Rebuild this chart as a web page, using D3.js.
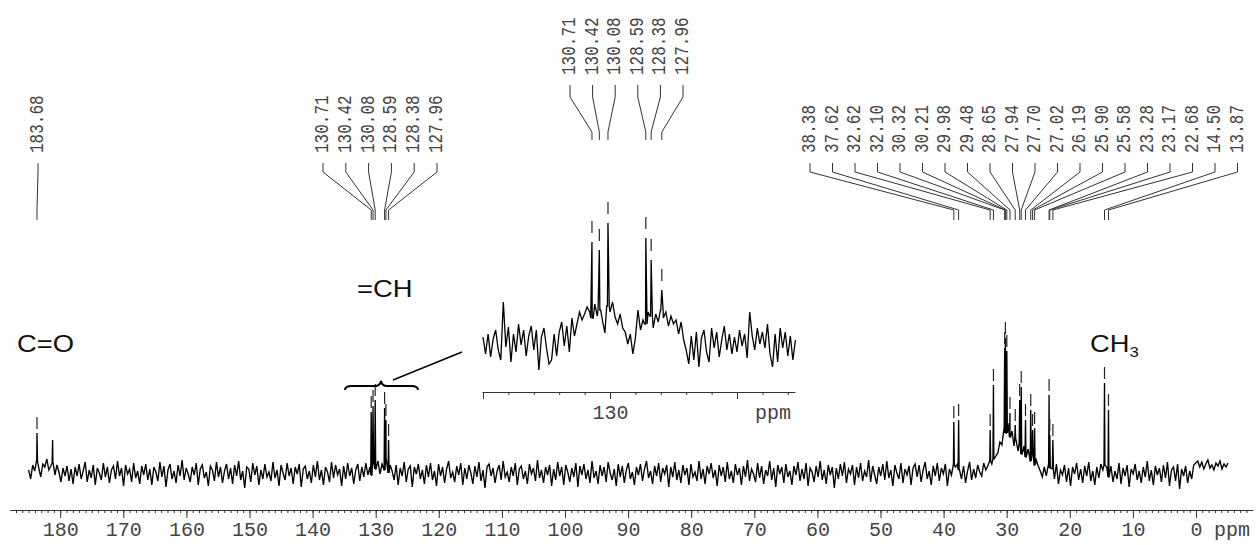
<!DOCTYPE html>
<html><head><meta charset="utf-8">
<script src="https://cdn.jsdelivr.net/npm/d3@7"></script>
<style>body{margin:0;background:#fff}svg{display:block}</style>
</head><body>
<script>
// ---------- DATA ----------
const mainStartPpm = 185.0, mainStepPpm = 0.32;
const mainNoise = [
3,-6,8,2,12,5,-4,9,6,14,3,7,10,-2,8,1,-9,5,-3,7,
-8,4,-11,6,-3,9,-6,2,11,-9,3,-5,8,-12,5,0,-7,10,-4,6,
-10,3,7,-6,12,-3,5,-13,8,-1,4,-9,10,-5,2,-11,7,-2,9,-7,
4,-12,6,1,-8,11,-4,7,-14,3,9,-6,2,-10,8,-3,13,-7,5,-1,
-9,6,-2,10,-12,4,8,-5,1,-13,7,3,-8,11,-4,6,-10,2,9,-6,
5,-11,8,-3,12,-7,2,-15,6,4,-9,10,-2,7,-12,3,-6,9,-4,1,
-8,11,-5,3,-13,8,0,-7,10,-3,5,-11,6,-1,9,-14,4,7,-6,2,
-10,8,-4,12,-7,3,-12,6,1,-9,11,-5,8,-2,4,-13,7,-6,10,-3,
5,-11,3,9,-8,6,-4,10,-2,6,-2,10,4,12,-1,9,3,13,0,8,
2,-7,8,-12,5,-3,11,-9,4,7,-14,6,-1,9,-6,3,-11,8,-4,10,
-7,2,-13,9,-3,6,-10,4,12,-5,1,-9,7,-2,10,-12,5,-6,8,0,
-11,7,-4,11,-8,3,-15,6,9,-3,5,-10,2,8,-7,12,-4,1,-9,6,
-3,10,-12,4,7,-6,2,-11,9,-1,5,-8,13,-5,3,-10,6,-2,8,-13,
4,-7,11,-3,6,-12,8,1,-9,5,-4,10,-14,7,-2,9,-6,3,-10,12,
-5,2,-11,8,-3,6,-9,11,0,-7,4,-13,9,-4,7,-10,3,10,-6,1,
-12,6,-2,9,-8,4,12,-5,2,-11,7,-3,10,-9,5,-1,8,-14,6,-4,
11,-7,3,-10,8,-2,5,-12,9,-4,1,-8,12,-6,4,-11,7,-1,10,-5,
3,-13,8,-3,6,-9,11,-6,2,-10,9,-2,5,-12,7,-4,13,-8,4,-1,
-9,10,-5,7,-11,3,-3,12,-7,5,-14,8,-1,6,-10,9,-4,2,-12,7,
-2,11,-8,4,-6,10,-13,5,1,-9,7,-4,12,-7,3,-11,8,-2,6,-15,
5,-6,9,-3,11,-10,4,-1,8,-12,6,-5,10,-8,2,-4,13,-9,7,-2,
-11,6,-3,9,-7,12,-5,3,-13,8,0,-6,10,-10,4,-2,7,-12,5,9,
-4,8,-9,3,11,-6,2,-12,7,-3,10,-8,5,-1,9,-13,4,-2,8,6,
9,3,-6,7,-10,2,11,-7,4,-5,8,1,-3,10,3,7,12,9,14,17,
20,31,28,44,40,50,36,42,27,33,22,30,19,27,16,24,12,20,8,13,
7,2,-4,6,-3,8,5,4,-6,9,-11,3,-2,8,-9,5,-13,6,-1,10,
-7,4,-10,7,-3,11,-8,2,-12,6,-5,9,3,8,5,-4,7,-9,2,-6,
10,-11,5,-3,8,-14,4,-1,9,-7,2,-10,6,-4,12,-8,3,-12,7,-2,
5,-9,8,-5,11,-13,3,6,-8,9,-16,4,-3,7,-10,2,-6,8,10,12,
6,11,4,9,13,5,8,3,10,7,12,4,9,6,10
];
const mainPeakPpm    = [183.68,181.20,130.71,130.42,130.08,128.59,128.38,127.96,38.38,37.62,32.62,32.10,30.32,30.21,29.98,29.48,28.65,27.94,27.70,27.02,26.19,25.90,25.58,23.28,23.17,22.68,14.50,13.87];
const mainPeakHeight = [40,33,61,67,73,65,53,33,51,53,43,88,125,135,122,60,48,73,86,53,63,43,45,78,38,33,90,63];

const insetStartPpm = 135.0, insetStepPpm = 0.1;
const insetNoise = [
5,-12,8,-15,3,12,-8,-18,40,-5,15,-20,8,-10,18,-3,12,-14,6,16,
-8,12,-28,5,14,-6,-22,-18,8,-14,10,20,-4,16,-10,24,6,18,30,22,
28,35,30,24,38,26,32,22,9,36,30,40,25,18,28,14,10,-2,8,-12,
4,32,12,22,18,30,26,14,28,20,32,24,30,16,26,18,22,8,20,2,
-8,-22,6,-18,10,-25,4,12,-10,-20,14,-6,10,-15,2,16,-8,8,-12,5,
-10,12,-4,8,-16,30,6,-8,14,-2,10,-6,18,-12,-25,8,-20,14,-6,10,-14,6,-18,2
];
const insetPeakPpm    = [130.71,130.42,130.08,128.59,128.38,127.96];
const insetPeakHeight = [100,92,119,104,82,52];

const carbonylLabels  = ["183.68"];
const alkeneLabels    = ["130.71","130.42","130.08","128.59","128.38","127.96"];
const aliphaticLabels = ["38.38","37.62","32.62","32.10","30.32","30.21","29.98","29.48","28.65","27.94","27.70","27.02","26.19","25.90","25.58","23.28","23.17","22.68","14.50","13.87"];
const insetLabels     = ["130.71","130.42","130.08","128.59","128.38","127.96"];

const mainTickValues  = [180,170,160,150,140,130,120,110,100,90,80,70,60,50,40,30,20,10,0];
const insetTickValues = [135,130,125];
const insetTickLabels = ["","130",""];

// ---------- DRAW ----------
const W = 1256, H = 545;
const svg = d3.select("body").append("svg").attr("width", W).attr("height", H);
const MONO = "'Liberation Mono','Courier New',monospace";
const SANS = "'Liberation Sans',Arial,sans-serif";

const xMain = d3.scaleLinear().domain([180, 0]).range([60.2, 1196]);
const yMain = d3.scaleLinear().domain([0, 100]).range([473, 373]);
const xInset = d3.scaleLinear().domain([130, 125]).range([610, 737]);
const yInset = d3.scaleLinear().domain([0, 100]).range([342, 242]);

function buildPoints(noise, start, step, peaksPpm, peaksH, hw) {
  const pts = noise.map((v, i) => [start - i * step, v]);
  peaksPpm.forEach((p, k) => {
    const i = Math.max(0, Math.min(noise.length - 1, Math.round((start - p) / step)));
    const base = noise[i];
    pts.push([p + hw, base], [p, peaksH[k]], [p - hw, base]);
  });
  pts.sort((a, b) => b[0] - a[0]);
  return pts;
}

// main spectrum
const mainPts = buildPoints(mainNoise, mainStartPpm, mainStepPpm, mainPeakPpm, mainPeakHeight, 0.08);
svg.append("path").datum(mainPts)
  .attr("d", d3.line().x(d => xMain(d[0])).y(d => yMain(d[1])))
  .attr("fill", "none").attr("stroke", "#000").attr("stroke-width", 1.35);

const allLabels = new Set([...carbonylLabels, ...alkeneLabels, ...aliphaticLabels]);
mainPeakPpm.forEach((p, k) => {
  if (!allLabels.has(p.toFixed(2))) return;
  const top = yMain(mainPeakHeight[k]);
  svg.append("line").attr("x1", xMain(p)).attr("x2", xMain(p))
    .attr("y1", top - 16).attr("y2", top - 4).attr("stroke", "#222").attr("stroke-width", 1.2);
});

// main axis
const AXY = 510;
const axisScale = d3.scaleLinear().domain([188, -9]).range([xMain(188), xMain(-9)]);
const gAx = svg.append("g").attr("transform", `translate(0,${AXY})`);
gAx.call(d3.axisBottom(axisScale).tickValues(d3.range(187, -9, -1)).tickSize(3).tickSizeOuter(0).tickFormat(""));
gAx.select(".domain").attr("stroke", "#333");
const gAx2 = svg.append("g").attr("transform", `translate(0,${AXY})`);
gAx2.call(d3.axisBottom(axisScale).tickValues(mainTickValues).tickSize(8).tickSizeOuter(0).tickPadding(4).tickFormat(d3.format("d")));
gAx2.select(".domain").remove();
svg.selectAll(".tick line").attr("stroke", "#333");
gAx2.selectAll("text").attr("font-family", MONO).attr("font-size", 20).attr("fill", "#444");
svg.append("text").attr("x", 1214).attr("y", AXY + 12).attr("dy", "0.71em")
  .attr("font-family", MONO).attr("font-size", 20).attr("fill", "#444").text("ppm");

// peak label groups
function labelGroup(labels, x0, dx, xScale, yText, y0, y1, y2, y3) {
  labels.forEach((s, i) => {
    const lx = x0 + i * dx, px = xScale(+s);
    svg.append("text")
      .attr("transform", `translate(${lx},${yText}) rotate(-90) scale(1,1.3)`)
      .attr("dominant-baseline", "central")
      .attr("font-family", MONO).attr("font-size", 16).attr("fill", "#444").text(s);
    svg.append("path")
      .attr("d", `M${lx},${y0}V${y1}L${px},${y2}V${y3}`)
      .attr("fill", "none").attr("stroke", "#333").attr("stroke-width", 1);
  });
}
labelGroup(carbonylLabels, 38, 0, xMain, 153, 163, 172, 210, 220);
labelGroup(alkeneLabels, 323, 22.8, xMain, 153, 163, 172, 210, 220);
labelGroup(aliphaticLabels, 810, 22.5, xMain, 153, 163, 172, 210, 220);
labelGroup(insetLabels, 570, 22.6, xInset, 75, 85, 97, 132, 140);

// inset spectrum
const insetPts = buildPoints(insetNoise, insetStartPpm, insetStepPpm, insetPeakPpm, insetPeakHeight, 0.05);
svg.append("path").datum(insetPts)
  .attr("d", d3.line().x(d => xInset(d[0])).y(d => yInset(d[1])))
  .attr("fill", "none").attr("stroke", "#000").attr("stroke-width", 1.3);
insetPeakPpm.forEach((p, k) => {
  const top = yInset(insetPeakHeight[k]);
  svg.append("line").attr("x1", xInset(p)).attr("x2", xInset(p))
    .attr("y1", top - 21).attr("y2", top - 9).attr("stroke", "#222").attr("stroke-width", 1.2);
});
const insetAxisScale = d3.scaleLinear().domain([135.04, 122.72]).range([xInset(135.04), xInset(122.72)]);
const gIn = svg.append("g").attr("transform", "translate(0,392)");
gIn.call(d3.axisBottom(insetAxisScale).tickValues(d3.range(135, 122, -1)).tickSize(3).tickSizeOuter(0).tickFormat(""));
gIn.select(".domain").attr("stroke", "#333");
const gIn2 = svg.append("g").attr("transform", "translate(0,392)");
gIn2.call(d3.axisBottom(insetAxisScale).tickValues(insetTickValues).tickSize(7).tickSizeOuter(0).tickPadding(6)
  .tickFormat((d, i) => insetTickLabels[i]));
gIn2.select(".domain").remove();
svg.selectAll(".tick line").attr("stroke", "#333");
gIn2.selectAll("text").attr("font-family", MONO).attr("font-size", 20).attr("fill", "#444");
svg.append("text").attr("x", 755).attr("y", 405).attr("dy", "0.71em")
  .attr("font-family", MONO).attr("font-size", 20).attr("fill", "#444").text("ppm");

// brace + pointer line
svg.append("path")
  .attr("d", "M345,390 q0,-4 7,-4 L375,386 q5,0 6,-5 q1,5 6,5 L411,386 q7,0 7,4")
  .attr("fill", "none").attr("stroke", "#000").attr("stroke-width", 2);
svg.append("line").attr("x1", 393).attr("y1", 380).attr("x2", 462).attr("y2", 352)
  .attr("stroke", "#000").attr("stroke-width", 1.4);

// group labels
function sansLabel(x, y, txt, sub) {
  const t = svg.append("text").attr("transform", `translate(${x},${y}) scale(1.19,1)`)
    .attr("font-family", SANS).attr("font-size", 23).attr("fill", "#111").text(txt);
  if (sub) t.append("tspan").attr("font-size", 14).attr("dy", 5).text(sub);
}
sansLabel(17, 352, "C=O");
sansLabel(357, 297, "=CH");
sansLabel(1090, 352, "CH", "3");
</script>
</body></html>
